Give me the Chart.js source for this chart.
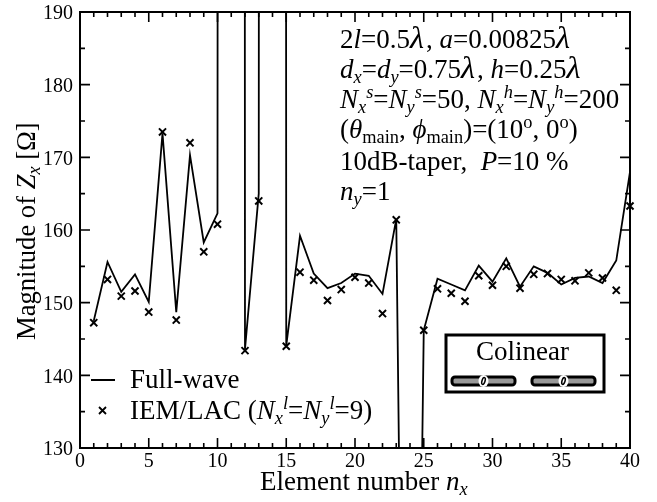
<!DOCTYPE html>
<html>
<head>
<meta charset="utf-8">
<title>Magnitude of Zx</title>
<style>
  html, body { margin: 0; padding: 0; background: #fff; }
  canvas { display: block; }
</style>
<script src="https://cdn.jsdelivr.net/npm/chart.js@4"></script>
</head>
<body>
<canvas id="chart" width="657" height="502"></canvas>
<script>
// --------- Data ----------
const elementNumbers = [1, 2, 3, 4, 5, 6, 7, 8, 9, 10,
  11, 12, 13, 14, 15, 16, 17, 18, 19, 20,
  21, 22, 23, 24, 25, 26, 27, 28, 29, 30,
  31, 32, 33, 34, 35, 36, 37, 38, 39, 40];

// elements 11 and 14 run far off the top of the plot, 24 far off the bottom
const fullWave = [147.5, 155.6, 151.5, 153.9, 150.1, 173.3, 148.7, 170.3, 158.3, 162.3,
  4000, 143.6, 165, 4000, 144.1, 159.2, 154, 152, 152.7, 154,
  153.7, 151.2, 161.5, 0, 146.2, 153.3, 152.5, 151.7, 155.1, 152.9,
  156.1, 152.2, 155, 154.1, 152.5, 153.4, 153.6, 152.7, 155.8, 168];

const iemLac = [147.25, 153.2, 150.9, 151.6, 148.7, 173.5, 147.6, 172, 157, 160.8,
  null, 143.4, 164, null, 144, 154.2, 153.1, 150.3, 151.8, 153.5,
  152.7, 148.5, 161.4, null, 146.2, 151.9, 151.3, 150.2, 153.7, 152.4,
  155, 152, 153.9, 154, 153.2, 153, 154.1, 153.4, 151.7, 163.3];

const xTickLabels = [0, 5, 10, 15, 20, 25, 30, 35, 40];
const yTickLabels = [130, 140, 150, 160, 170, 180, 190];

const SERIF = '"Liberation Serif", "Times New Roman", serif';

// each line is a list of runs: [text, style] with i = italic, b = sub, p = sup, w = wide glyph
const noteLines = [
  [['2'], ['l', 'i'], ['=0.5'], ['λ', 'iw'], [', '], ['a', 'i'], ['=0.00825'], ['λ', 'iw']],
  [['d', 'i'], ['x', 'ib'], ['='], ['d', 'i'], ['y', 'ib'], ['=0.75'], ['λ', 'iw'], [', '], ['h', 'i'], ['=0.25'], ['λ', 'iw']],
  [['N', 'i'], ['x', 'ib'], ['s', 'ip'], ['='], ['N', 'i'], ['y', 'ib'], ['s', 'ip'], ['=50, '], ['N', 'i'], ['x', 'ib'], ['h', 'ip'], ['='], ['N', 'i'], ['y', 'ib'], ['h', 'ip'], ['=200']],
  [['('], ['θ', 'i'], ['main', 'b'], [', '], ['ϕ', 'i'], ['main', 'b'], [')=(10'], ['o', 'p'], [', 0'], ['o', 'p'], [')']],
  [['10dB-taper,  '], ['P', 'i'], ['=10 %']],
  [['n', 'i'], ['y', 'ib'], ['=1']]
];
const xTitle = [['Element number '], ['n', 'i'], ['x', 'ib']];
const yTitle = [['Magnitude of '], ['Z', 'i'], ['x', 'ib'], [' [Ω]']];
const legendLine = [['Full-wave']];
const legendCross = [['IEM/LAC ('], ['N', 'i'], ['x', 'ib'], ['l', 'ip'], ['='], ['N', 'i'], ['y', 'ib'], ['l', 'ip'], ['=9)']];

// --------- Helpers ----------
function drawRich(ctx, runs, x, y, size) {
  ctx.textAlign = 'left';
  ctx.textBaseline = 'alphabetic';
  ctx.fillStyle = '#000';
  runs.forEach(([text, style = '']) => {
    const small = style.includes('b') || style.includes('p');
    let px = small ? size * 0.68 : size;
    if (style.includes('w')) px = size * 1.2;
    ctx.font = `${style.includes('i') ? 'italic ' : ''}${px}px ${SERIF}`;
    let dy = 0;
    if (style.includes('b')) dy = size * 0.2;
    if (style.includes('p')) dy = -size * 0.36;
    ctx.fillText(text, x, y + dy);
    x += ctx.measureText(text).width + (style.includes('w') ? 2 : 0);
  });
  return x;
}

function drawFrameAndTicks(chart) {
  const { ctx, chartArea: a, scales } = chart;
  ctx.save();
  ctx.strokeStyle = '#000';
  ctx.lineWidth = 2;
  ctx.strokeRect(a.left, a.top, a.right - a.left, a.bottom - a.top);
  ctx.lineWidth = 1.6;
  ctx.beginPath();
  for (let v = 1; v < 40; v++) {
    const px = scales.x.getPixelForValue(v);
    const len = v % 5 === 0 ? 10 : 5;
    ctx.moveTo(px, a.bottom); ctx.lineTo(px, a.bottom - len);
    ctx.moveTo(px, a.top); ctx.lineTo(px, a.top + len);
  }
  for (let v = 135; v < 190; v += 5) {
    const px = scales.y.getPixelForValue(v);
    const len = v % 10 === 0 ? 10 : 5;
    ctx.moveTo(a.left, px); ctx.lineTo(a.left + len, px);
    ctx.moveTo(a.right, px); ctx.lineTo(a.right - len, px);
  }
  ctx.stroke();
  ctx.restore();
}

function drawDipole(ctx, left, right, top, bottom) {
  const mid = (left + right) / 2;
  ctx.fillStyle = '#999';
  ctx.strokeStyle = '#000';
  ctx.lineWidth = 3;
  ctx.beginPath();
  ctx.roundRect(left, top, right - left, bottom - top, 3);
  ctx.fill();
  ctx.stroke();
  ctx.fillStyle = '#fff';
  ctx.beginPath();
  ctx.ellipse(mid, (top + bottom) / 2, 5, 6, 0, 0, Math.PI * 2);
  ctx.fill();
  ctx.lineWidth = 1.5;
  ctx.beginPath();
  ctx.ellipse(mid, (top + bottom) / 2, 1.5, 3.5, 0.3, 0, Math.PI * 2);
  ctx.stroke();
}

// --------- Text, legend and inset ----------
const decorations = {
  id: 'decorations',
  afterDraw(chart) {
    const { ctx } = chart;
    drawFrameAndTicks(chart);
    ctx.save();

    // axis titles
    drawRich(ctx, xTitle, 260, 490, 27);
    ctx.save();
    ctx.translate(35, 340);
    ctx.rotate(-Math.PI / 2);
    drawRich(ctx, yTitle, 0, 0, 26.6);
    ctx.restore();

    // parameter notes
    const noteBaselines = [48, 78, 108, 138, 170, 200];
    noteLines.forEach((line, i) => drawRich(ctx, line, 340, noteBaselines[i], 27));

    // legend
    ctx.strokeStyle = '#000';
    ctx.lineWidth = 1.8;
    ctx.beginPath();
    ctx.moveTo(91, 380); ctx.lineTo(115, 380);
    ctx.moveTo(99, 407); ctx.lineTo(106, 414);
    ctx.moveTo(106, 407); ctx.lineTo(99, 414);
    ctx.stroke();
    drawRich(ctx, legendLine, 130, 388, 27);
    drawRich(ctx, legendCross, 130, 419, 27);

    // colinear inset
    ctx.fillStyle = '#fff';
    ctx.strokeStyle = '#000';
    ctx.lineWidth = 3;
    ctx.fillRect(446, 335, 158, 57);
    ctx.strokeRect(446, 335, 158, 57);
    drawRich(ctx, [['Colinear']], 476, 360, 27);
    drawDipole(ctx, 452, 515, 377, 385);
    drawDipole(ctx, 532, 595, 377, 385);

    ctx.restore();
  }
};

// --------- Chart.js Setup ----------
new Chart(document.getElementById('chart').getContext('2d'), {
  type: 'line',
  data: {
    datasets: [
      {
        label: 'Full-wave',
        data: elementNumbers.map((n, i) => ({ x: n, y: fullWave[i] })),
        borderColor: '#000',
        borderWidth: 1.8,
        pointRadius: 0,
        tension: 0
      },
      {
        label: 'IEM/LAC',
        data: elementNumbers.map((n, i) => ({ x: n, y: iemLac[i] })),
        showLine: false,
        pointStyle: 'crossRot',
        pointRadius: 5,
        pointBorderWidth: 2,
        pointBorderColor: '#000',
        clip: false
      }
    ]
  },
  options: {
    responsive: false,
    animation: false,
    layout: { padding: { top: 12, right: 27, left: 0, bottom: 0 } },
    plugins: { legend: { display: false }, tooltip: { enabled: false } },
    scales: {
      x: {
        type: 'linear',
        min: 0,
        max: 40,
        afterBuildTicks: s => { s.ticks = xTickLabels.map(value => ({ value })); },
        afterFit: s => { s.height = 54; s.paddingLeft = 0; s.paddingRight = 0; },
        grid: { display: false, drawTicks: false },
        border: { display: false },
        ticks: {
          autoSkip: false,
          maxRotation: 0,
          padding: 2,
          color: '#000',
          font: { family: SERIF, size: 20 }
        }
      },
      y: {
        type: 'linear',
        min: 130,
        max: 190,
        afterBuildTicks: s => { s.ticks = yTickLabels.map(value => ({ value })); },
        afterFit: s => { s.width = 80; s.paddingTop = 0; s.paddingBottom = 0; },
        grid: { display: false, drawTicks: false },
        border: { display: false },
        ticks: {
          padding: 7,
          color: '#000',
          // empty first line nudges the label 2px down, level with the reference
          callback: v => ['', String(v)],
          font: { family: SERIF, size: 20, lineHeight: 0.2 }
        }
      }
    }
  },
  plugins: [decorations]
});
</script>
</body>
</html>
